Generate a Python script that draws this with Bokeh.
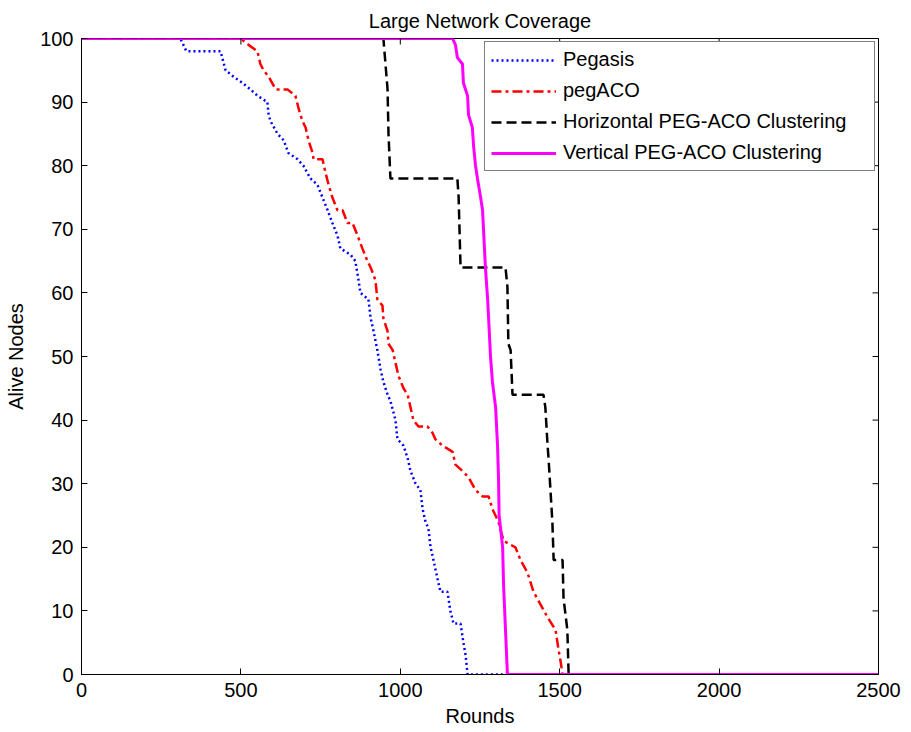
import math
from bokeh.plotting import figure
from bokeh.models import FixedTicker, Range1d
from bokeh.embed import file_html
from bokeh.resources import INLINE

# ---- data ----
peg_x = [0, 310, 329, 436, 452, 477, 505, 530, 552, 583, 587, 593, 615, 634, 649, 678, 696, 718, 740,
         756, 772, 787, 803, 812, 844, 859, 869, 875, 900, 907, 916, 928, 938, 947, 960, 969, 985,
         991, 1010, 1023, 1032, 1048, 1063, 1070, 1079, 1088, 1095, 1104, 1117, 1126, 1148, 1157,
         1167, 1189, 1198, 1205, 1211, 2500]
peg_y = [100, 100, 98, 98, 95, 94, 93, 92, 91, 90, 88, 87, 85, 84, 82, 81, 80, 78, 77,
         75, 73, 71, 69, 67, 66, 65, 62, 60, 59, 56, 54, 51, 48, 46, 44, 43, 40,
         37, 36, 34, 32, 30, 29, 26, 24, 23, 20, 18, 15, 13, 13, 10,
         8, 8, 5, 3, 0, 0]

aco_x = [0, 499, 524, 552, 561, 571, 587, 609, 646, 671, 681, 693, 703, 712, 725, 728, 756, 765, 775,
         787, 803, 819, 834, 850, 866, 881, 897, 907, 922, 928, 944, 947, 960, 963, 976, 985, 994,
         1010, 1023, 1032, 1041, 1057, 1085, 1101, 1110, 1132, 1164, 1173, 1195, 1214, 1236, 1258,
         1277, 1289, 1308, 1324, 1361, 1377, 1399, 1418, 1440, 1462, 1487, 1496, 1503, 1509, 2500]
aco_y = [100, 100, 99, 98, 96, 95, 94, 92, 92, 91, 89, 87, 86, 84, 82, 81, 81, 79, 77,
         75, 73, 73, 71, 71, 69, 67, 65, 64, 62, 59, 58, 56, 54, 52, 51, 49, 47,
         45, 44, 42, 40, 39, 39, 38, 37, 36, 35, 33, 32, 31, 29, 28,
         28, 26, 24, 21, 20, 18, 16, 13, 11, 9, 7, 4, 2, 0, 0]

hor_x = [0, 947, 960, 963, 969, 1179, 1183, 1189, 1330, 1336, 1339, 1346, 1352, 1449, 1455, 1462,
         1465, 1471, 1477, 1481, 1509, 1512, 1524, 1528, 2500]
hor_y = [100, 100, 92, 85, 78, 78, 75, 64, 64, 61, 52, 51, 44, 44, 42, 36,
         34, 29, 24, 18, 18, 12, 7, 0, 0]

ver_x = [0, 1164, 1173, 1179, 1195, 1198, 1211, 1214, 1226, 1230, 1236, 1242, 1252, 1258, 1261,
         1264, 1267, 1274, 1277, 1283, 1289, 1299, 1305, 1308, 1310, 1321, 1324, 1330, 1336, 2500]
ver_y = [100, 100, 99, 97, 96, 93, 91, 88, 86, 83, 80, 78, 75, 73, 70,
         67, 64, 59, 56, 50, 46, 42, 36, 31, 25, 20, 14, 7, 0, 0]

x_ticks = [0, 500, 1000, 1500, 2000, 2500]
y_ticks = [0, 10, 20, 30, 40, 50, 60, 70, 80, 90, 100]
X_MAX = 2500
Y_MAX = 100

FONT = "Liberation Sans"

p = figure(width=911, height=732, output_backend="svg", toolbar_location=None,
           x_range=Range1d(0, X_MAX), y_range=Range1d(0, Y_MAX),
           min_border_left=81, min_border_right=33, min_border_top=38, min_border_bottom=58,
           title="Large Network Coverage")
p.title.align = "center"
p.title.text_font = FONT
p.title.text_font_size = "20px"
p.title.text_font_style = "normal"
p.title.text_color = "black"
p.title.standoff = 13

p.xgrid.visible = False
p.ygrid.visible = False
p.outline_line_color = "black"
p.outline_line_width = 1

p.line(peg_x, peg_y, color="blue", line_width=2.5, line_dash="2 3", legend_label="Pegasis")
p.line(aco_x, aco_y, color="red", line_width=2.5, line_dash="10 4 3 4", legend_label="pegACO")
p.line(hor_x, hor_y, color="black", line_width=2.5, line_dash="10 5",
       legend_label="Horizontal PEG-ACO Clustering")
p.line(ver_x, ver_y, color="magenta", line_width=3, legend_label="Vertical PEG-ACO Clustering")

# inward tick marks on the top and right edges of the box (clipped to the frame)
p.scatter(x_ticks, [Y_MAX] * len(x_ticks), marker="dash", size=12, angle=math.pi / 2,
          line_color="black", line_width=1)
p.scatter([X_MAX] * len(y_ticks), y_ticks, marker="dash", size=12,
          line_color="black", line_width=1)

xa = p.xaxis[0]
ya = p.yaxis[0]
xa.ticker = FixedTicker(ticks=x_ticks)
ya.ticker = FixedTicker(ticks=y_ticks)
for ax in (xa, ya):
    ax.major_tick_in = 6
    ax.major_tick_out = 0
    ax.minor_tick_line_color = None
    ax.major_label_text_font = FONT
    ax.major_label_text_font_size = "20px"
    ax.major_label_text_color = "black"
    ax.axis_label_text_font = FONT
    ax.axis_label_text_font_size = "20px"
    ax.axis_label_text_font_style = "normal"
    ax.axis_label_text_color = "black"
    ax.major_label_standoff = 8
xa.axis_label = "Rounds"
ya.axis_label = "Alive Nodes"
xa.axis_label_standoff = 5
ya.axis_label_standoff = 10

lg = p.legend[0]
lg.location = "top_right"
lg.margin = 3
lg.padding = 6
lg.spacing = 8
lg.glyph_width = 65
lg.glyph_height = 20
lg.label_height = 20
lg.label_width = 305
lg.label_standoff = 7
lg.label_text_font = FONT
lg.label_text_font_size = "20px"
lg.label_text_color = "black"
lg.border_line_color = "black"
lg.border_line_width = 1
lg.background_fill_color = "white"
lg.background_fill_alpha = 1.0

open("out.html", "w").write(file_html(p, INLINE))
